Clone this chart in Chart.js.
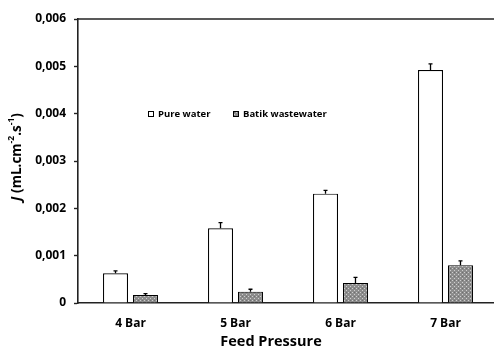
<!DOCTYPE html>
<html>
<head>
<meta charset="utf-8">
<script src="https://cdn.jsdelivr.net/npm/chart.js@4.4.0/dist/chart.umd.min.js"></script>
<style>
  html, body { margin: 0; padding: 0; background: #fff; overflow: hidden; }
  #wrap { width: 500px; height: 349px; }
</style>
</head>
<body>
<div id="wrap"><canvas id="myChart" width="500" height="349"></canvas></div>
<script>
const labels = ["4 Bar", "5 Bar", "6 Bar", "7 Bar"];
const pureWater = [0.00063, 0.00158, 0.00231, 0.00492];
const pureErr = [0.00005, 0.00012, 0.00007, 0.00013];
const batik = [0.00017, 0.00024, 0.00042, 0.0008];
const batikErr = [0.00003, 0.00005, 0.00012, 0.00009];
const yTicks = [0, 0.001, 0.002, 0.003, 0.004, 0.005, 0.006];

const FONT = "'Open Sans', sans-serif";

// gray dotted fill like the excel pattern
function makePattern() {
  const c = document.createElement("canvas");
  c.width = 4;
  c.height = 4;
  const g = c.getContext("2d");
  g.fillStyle = "#8c8c8c";
  g.fillRect(0, 0, 4, 4);
  g.fillStyle = "#cfcfcf";
  g.fillRect(0, 0, 1, 1);
  g.fillRect(2, 2, 1, 1);
  g.fillStyle = "#6f6f6f";
  g.fillRect(2, 0, 1, 1);
  return g.createPattern(c, "repeat");
}
const batikFill = makePattern();

const errorBars = {
  id: "errorBars",
  afterDatasetsDraw(chart) {
    const ctx = chart.ctx;
    const y = chart.scales.y;
    const errs = [pureErr, batikErr];
    ctx.save();
    ctx.strokeStyle = "#000";
    ctx.lineWidth = 1.3;
    chart.data.datasets.forEach((ds, i) => {
      const meta = chart.getDatasetMeta(i);
      meta.data.forEach((bar, j) => {
        const top = y.getPixelForValue(ds.data[j]);
        const hi = y.getPixelForValue(ds.data[j] + errs[i][j]);
        ctx.beginPath();
        ctx.moveTo(bar.x, top);
        ctx.lineTo(bar.x, hi);
        ctx.moveTo(bar.x - 2, hi);
        ctx.lineTo(bar.x + 2, hi);
        ctx.stroke();
      });
    });
    ctx.restore();
  },
};

const extras = {
  id: "extras",
  afterDraw(chart) {
    const ctx = chart.ctx;
    const area = chart.chartArea;
    ctx.save();
    // top frame line
    ctx.strokeStyle = "#222";
    ctx.lineWidth = 1.6;
    ctx.beginPath();
    ctx.moveTo(area.left, area.top);
    ctx.lineTo(area.right, area.top);
    ctx.stroke();

    // legend
    ctx.lineWidth = 1;
    ctx.strokeStyle = "#000";
    ctx.fillStyle = "#fff";
    ctx.fillRect(148.5, 111.5, 5, 5);
    ctx.strokeRect(148.5, 111.5, 5, 5);
    ctx.fillStyle = batikFill;
    ctx.fillRect(233.5, 111.5, 5, 5);
    ctx.strokeRect(233.5, 111.5, 5, 5);
    ctx.fillStyle = "#000";
    ctx.font = "bold 9.5px " + FONT;
    ctx.textBaseline = "middle";
    ctx.textAlign = "left";
    ctx.fillText("Pure water", 158, 114);
    ctx.fillText("Batik wastewater", 243, 114);

    // x title
    ctx.font = "bold 14.5px " + FONT;
    ctx.textAlign = "center";
    ctx.fillText("Feed Pressure", 271, 342);

    // y title: J (mL.cm-2.s-1) with italic J and superscripts
    ctx.translate(17, 157);
    ctx.rotate(-Math.PI / 2);
    const parts = [
      ["italic bold 13.5px " + FONT, "J", 0],
      ["bold 13.5px " + FONT, " (mL.cm", 0],
      ["bold 8.5px " + FONT, "-2", -5],
      ["bold 13.5px " + FONT, ".s", 0],
      ["bold 8.5px " + FONT, "-1", -5],
      ["bold 13.5px " + FONT, ")", 0],
    ];
    let total = 0;
    parts.forEach((p) => {
      ctx.font = p[0];
      total += ctx.measureText(p[1]).width;
    });
    let x = -total / 2;
    ctx.textAlign = "left";
    parts.forEach((p) => {
      ctx.font = p[0];
      ctx.fillText(p[1], x, p[2]);
      x += ctx.measureText(p[1]).width;
    });
    ctx.restore();
  },
};

const datasets = [
  {
    label: "Pure water",
    data: pureWater,
    backgroundColor: "#fff",
    borderColor: "#000",
    borderWidth: 1.2,
  },
  {
    label: "Batik wastewater",
    data: batik,
    backgroundColor: batikFill,
    borderColor: "#000",
    borderWidth: 1.2,
  },
];

const config = {
  type: "bar",
  data: { labels, datasets },
  options: {
    responsive: false,
    animation: false,
    layout: { padding: { top: 19, right: 2, left: 0, bottom: 0 } },
    datasets: {
      bar: { categoryPercentage: 0.571, barPercentage: 0.833 },
    },
    plugins: {
      legend: { display: false },
      tooltip: { enabled: false },
    },
    scales: {
      x: {
        grid: { display: false, drawTicks: false },
        border: { display: true, color: "#222", width: 1.6 },
        ticks: {
          color: "#000",
          padding: 13,
          font: { family: FONT, weight: "bold", size: 12 },
        },
        afterFit(scale) {
          scale.height = 46;
        },
      },
      y: {
        min: 0,
        max: 0.006,
        afterBuildTicks(scale) {
          scale.ticks = yTicks.map((v) => ({ value: v }));
        },
        grid: {
          drawOnChartArea: false,
          drawTicks: true,
          tickLength: 4,
          color: "#222",
          tickWidth: 1.4,
        },
        border: { display: true, color: "#222", width: 1.6 },
        ticks: {
          color: "#000",
          padding: 8,
          font: { family: FONT, weight: "bold", size: 12 },
          callback: (v) => (v === 0 ? "0" : v.toFixed(3).replace(".", ",")),
        },
        afterFit(scale) {
          scale.width = 78;
        },
      },
    },
  },
  plugins: [errorBars, extras],
};

new Chart(document.getElementById("myChart"), config);
</script>
</body>
</html>
